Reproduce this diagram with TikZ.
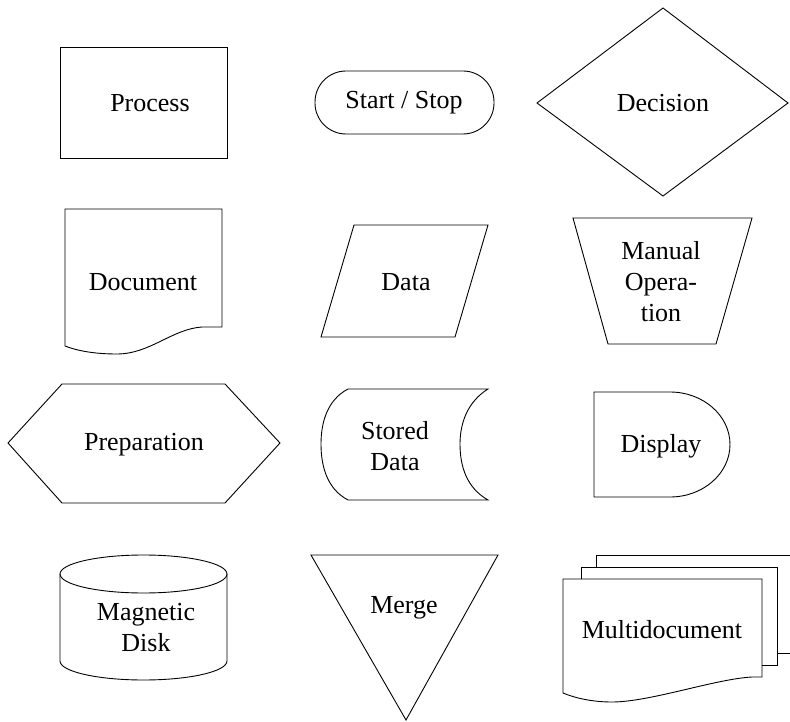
\documentclass[tikz,border=0pt]{standalone}
\usepackage{fontspec}
\setmainfont{Liberation Serif}
\begin{document}
\begin{tikzpicture}[x=1pt,y=-1pt,
  shp/.style={draw=black,line width=0.9pt,line join=miter},
  lbl/.style={font=\rmfamily\fontsize{26}{31}\selectfont,align=center,inner sep=0pt}]
\useasboundingbox (0,0) rectangle (790,722);
% Row 1
\draw[shp] (60,47) rectangle (227,158);
\node[lbl] (process) at (150,103) {Process};
\draw[shp,rounded corners=31pt] (315,71) rectangle (494,134);
\node[lbl] (startstop) at (404,103) {Start / Stop};
\draw[shp] (537,103) -- (663,8) -- (788,103) -- (663,196) -- cycle;
\node[lbl] (decision) at (663,103) {Decision};
% Row 2
\draw[shp] (65,209) -- (222,209) -- (222,327) -- (202,327)
  .. controls (172,329) and (150,354) .. (117,354)
  .. controls (95,354) and (78,351) .. (65,346) -- cycle;
\node[lbl] (document) at (143,282) {Document};
\draw[shp] (354,225) -- (488,225) -- (455,337) -- (321,337) -- cycle;
\node[lbl] (data) at (406,282) {Data};
\draw[shp] (573,218) -- (752,218) -- (716,344) -- (608,344) -- cycle;
\node[lbl] (manual) at (661,282) {Manual\\Opera-\\tion};
% Row 3
\draw[shp] (8,443) -- (62,384) -- (225,384) -- (280,443) -- (225,503) -- (62,503) -- cycle;
\node[lbl] (prep) at (144,445) {Preparation};
\draw[shp] (348,389) -- (488,389)
  .. controls (467,402) and (460,424) .. (460,444)
  .. controls (460,467) and (467,488) .. (488,500) -- (348,500)
  .. controls (327,489) and (321,466) .. (321,444)
  .. controls (321,423) and (327,400) .. (348,389) -- cycle;
\node[lbl] (stored) at (395,446) {Stored\\Data};
\draw[shp] (594,392) -- (670,392) arc[start angle=90,end angle=-90,x radius=60pt,y radius=52.5pt] -- (594,497) -- cycle;
\node[lbl] (display) at (661,446) {Display};
% Row 4
\draw[shp] (143.5,574) ellipse [x radius=83.5pt,y radius=19pt];
\draw[shp] (60,574) -- (60,661) arc[start angle=180,end angle=360,x radius=83.5pt,y radius=19pt] -- (227,574);
\node[lbl] (disk) at (146,628) {Magnetic\\Disk};
\draw[shp] (311,555) -- (498,555) -- (406,720) -- cycle;
\node[lbl] (merge) at (404,608) {Merge};
\draw[shp] (596,567) -- (596,555) -- (791,555);
\draw[shp] (777,653) -- (791,653);
\draw[shp] (581,579) -- (581,567) -- (777,567) -- (777,665) -- (762,665);
\draw[shp] (563,579) -- (762,579) -- (762,677) -- (752,677)
  .. controls (715,679) and (650,702) .. (612,702)
  .. controls (592,702) and (575,698) .. (563,693) -- cycle;
\node[lbl] (multi) at (662,630) {Multidocument};
\end{tikzpicture}
\end{document}
